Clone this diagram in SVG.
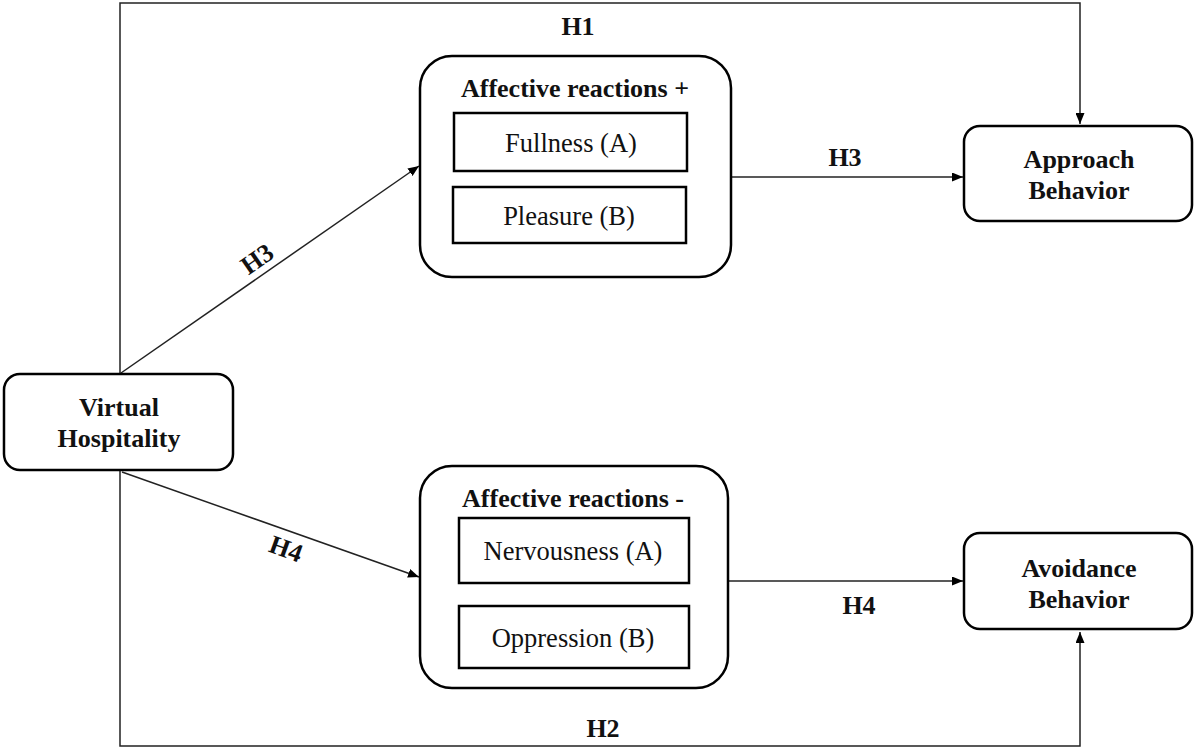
<svg xmlns="http://www.w3.org/2000/svg" width="1195" height="752" viewBox="0 0 1195 752">
<style>
.box{fill:#fff;stroke:#000;stroke-width:2.5}
.inner{fill:#fff;stroke:#000;stroke-width:2.5}
.ln{fill:none;stroke:#222;stroke-width:1.5}
.b{font-family:"Liberation Serif","Times New Roman",serif;font-weight:bold;font-size:26px;fill:#111;text-anchor:middle}
.r{font-family:"Liberation Serif","Times New Roman",serif;font-size:26.5px;fill:#111;text-anchor:middle}
</style>
<defs>
<marker id="arr" markerWidth="11" markerHeight="9" refX="11" refY="4.5" orient="auto" markerUnits="userSpaceOnUse">
<path d="M0,0 L11,4.5 L0,9 Z" fill="#000"/>
</marker>
</defs>
<g id="connectors">
<path class="ln" d="M120,374 V3 H1080 V124" marker-end="url(#arr)"/>
<path class="ln" d="M120,470 V746 H1080 V632" marker-end="url(#arr)"/>
<path class="ln" d="M121,373 L419,166" marker-end="url(#arr)"/>
<path class="ln" d="M122,472 L419,577" marker-end="url(#arr)"/>
<path class="ln" d="M731,177 H963" marker-end="url(#arr)"/>
<path class="ln" d="M728,581 H963" marker-end="url(#arr)"/>
<text class="b" x="578" y="35">H1</text>
<text class="b" x="845" y="166">H3</text>
<text class="b" x="859" y="614">H4</text>
<text class="b" x="603" y="737">H2</text>
<text class="b" transform="translate(262,266) rotate(-35)">H3</text>
<text class="b" transform="translate(283,557) rotate(20)">H4</text>
</g>
<g id="virtual-hospitality">
<rect class="box" x="4" y="374" width="229" height="96" rx="16"/>
<text class="b" x="119" y="416">Virtual</text>
<text class="b" x="119" y="447">Hospitality</text>
</g>
<g id="affective-positive">
<rect class="box" x="420" y="56" width="311" height="221" rx="32"/>
<text class="b" x="575" y="97">Affective reactions +</text>
<g id="fullness">
<rect class="inner" x="454" y="113" width="233" height="58"/>
<text class="r" x="571" y="152">Fullness (A)</text>
</g>
<g id="pleasure">
<rect class="inner" x="453" y="187" width="233" height="56"/>
<text class="r" x="569" y="225">Pleasure (B)</text>
</g>
</g>
<g id="affective-negative">
<rect class="box" x="420" y="466" width="308" height="222" rx="32"/>
<text class="b" x="573" y="507">Affective reactions -</text>
<g id="nervousness">
<rect class="inner" x="459" y="518" width="230" height="65"/>
<text class="r" x="573" y="560">Nervousness (A)</text>
</g>
<g id="oppression">
<rect class="inner" x="459" y="606" width="230" height="62"/>
<text class="r" x="573" y="647">Oppression (B)</text>
</g>
</g>
<g id="approach-behavior">
<rect class="box" x="964" y="126" width="228" height="95" rx="16"/>
<text class="b" x="1079" y="168">Approach</text>
<text class="b" x="1079" y="199">Behavior</text>
</g>
<g id="avoidance-behavior">
<rect class="box" x="964" y="533" width="228" height="96" rx="16"/>
<text class="b" x="1079" y="577">Avoidance</text>
<text class="b" x="1079" y="608">Behavior</text>
</g>
</svg>
